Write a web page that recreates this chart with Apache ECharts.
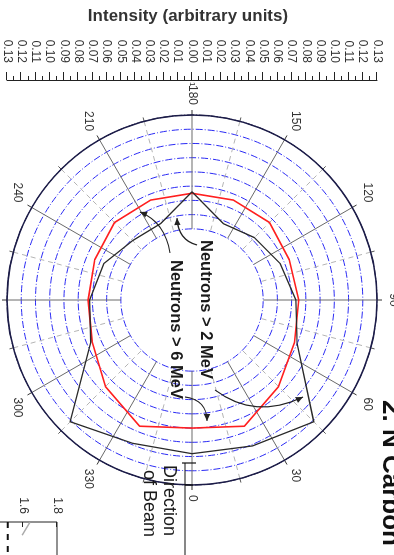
<!DOCTYPE html>
<html><head><meta charset="utf-8">
<script src="https://cdn.jsdelivr.net/npm/echarts@6/dist/echarts.min.js"></script>
<style>
html,body{margin:0;padding:0;width:394px;height:555px;overflow:hidden;background:#fff;}
#chart{position:absolute;left:0;top:0;width:600px;height:480px;transform-origin:0 0;transform:translate(394px,0) rotate(90deg);}
</style></head><body><div id="chart"></div>
<script>
// Emission angle (degrees) and intensity (arbitrary units)
const angles = [0, 22.5, 45, 67.5, 90, 112.5, 135, 157.5, 180, 202.5, 225, 247.5, 270, 292.5, 315, 337.5];
const neutronsAbove2MeV = [0.108, 0.111, 0.121, 0.080, 0.073, 0.067, 0.062, 0.058, 0.076, 0.058, 0.059, 0.067, 0.072, 0.077, 0.121, 0.109];
const neutronsAbove6MeV = [0.090, 0.096, 0.086, 0.078, 0.075, 0.074, 0.077, 0.076, 0.075, 0.076, 0.077, 0.074, 0.073, 0.076, 0.086, 0.096];
const intensityMax = 0.13;
const ringMin = 0.05;
const intensityStep = 0.01;
const angleStep = 30;
const axisTitle = 'Intensity (arbitrary units)';
const label2 = 'Neutrons > 2 MeV';
const label6 = 'Neutrons > 6 MeV';
const beamLines = ['Direction', 'of Beam'];
const pageHeading = '2. N Carbon';
// neighbouring inset chart fragment
const insetTicks = {min: 1.2, max: 1.8, step: 0.2};
const insetGrey = [[0.05, 1.64], [1.7, 1.595]];
const insetDashed = [[0, 1.51], [10, 1.51]];

function closed(vals) {
  const d = angles.map((a, i) => [vals[i], a]);
  d.push([vals[0], angles[0]]);
  return d;
}

const C = [300, 202], R = 185;
const font = '"Liberation Sans", Arial, sans-serif';
const chart = echarts.init(document.getElementById('chart'), null, {renderer: 'canvas'});

function arrowHead(tip, from, size) {
  const dx = tip[0] - from[0], dy = tip[1] - from[1];
  const L = Math.hypot(dx, dy), ux = dx / L, uy = dy / L;
  const bx = tip[0] - ux * size, by = tip[1] - uy * size;
  const w = size * 0.45;
  return {type: 'polygon', shape: {points: [tip, [bx - uy * w, by + ux * w], [bx + uy * w, by - ux * w]]}, style: {fill: '#222'}, z: 20};
}
function curve(p1, cp, p2, head) {
  const els = [{type: 'bezierCurve', shape: {x1: p1[0], y1: p1[1], cpx1: cp[0], cpy1: cp[1], x2: p2[0], y2: p2[1]}, style: {stroke: '#222', lineWidth: 1.2, fill: null}, z: 20}];
  if (head) els.push(arrowHead(p2, cp, 7));
  return els;
}

const ringColors = [];
for (let v = ringMin; v < intensityMax - 1e-9; v += intensityStep) ringColors.push('#2b2bf5');
ringColors.push('#1c1c48');

chart.setOption({
  animation: false,
  backgroundColor: '#fff',
  polar: [
    {center: C, radius: R},
    {center: C, radius: [R * ringMin / intensityMax, R]}
  ],
  angleAxis: [
    {polarIndex: 0, type: 'value', min: 0, max: 360, interval: angleStep, startAngle: 0, clockwise: false, z: 3,
     axisLine: {show: true, lineStyle: {color: '#1c1c48', width: 1.5}},
     axisTick: {show: true, length: 5, lineStyle: {color: '#333'}},
     minorTick: {show: true, splitNumber: 2, length: 4, lineStyle: {color: '#555'}},
     splitLine: {show: false}, minorSplitLine: {show: false},
     axisLabel: {fontSize: 12, color: '#333', fontFamily: font, margin: 10}},
    {polarIndex: 1, type: 'value', min: 0, max: 360, interval: angleStep, startAngle: 0, clockwise: false, z: 1,
     axisLine: {show: false}, axisTick: {show: false}, axisLabel: {show: false},
     minorTick: {show: false, splitNumber: 2},
     splitLine: {show: true, lineStyle: {color: '#6a6a6a', width: 1}},
     minorSplitLine: {show: true, lineStyle: {color: '#b5b5b5', type: [5, 4], width: 1}}}
  ],
  radiusAxis: [
    {polarIndex: 0, type: 'value', min: 0, max: intensityMax, show: false},
    {polarIndex: 1, type: 'value', min: ringMin, max: intensityMax, interval: intensityStep, z: 1,
     axisLine: {show: false}, axisTick: {show: false}, axisLabel: {show: false},
     splitLine: {show: true, lineStyle: {color: ringColors, width: 1, type: [7, 2, 1, 2]}}}
  ],
  grid: [
    {left: 80, top: 17, width: 10, height: 370},
    {left: 522, top: 337, width: 200, height: 102, show: true, borderColor: '#222', borderWidth: 1, backgroundColor: 'transparent'}
  ],
  xAxis: [
    {gridIndex: 0, type: 'value', show: false},
    {gridIndex: 1, type: 'value', min: 0, max: 10, show: false}
  ],
  yAxis: [
    {gridIndex: 0, type: 'value', min: -intensityMax, max: intensityMax, interval: intensityStep,
     name: axisTitle, nameLocation: 'middle', nameRotate: 90, nameGap: 55,
     nameTextStyle: {fontSize: 17, fontWeight: 'bold', color: '#333', fontFamily: font, padding: [0, 8, 0, 0]},
     axisLine: {show: true, lineStyle: {color: '#222', width: 1}},
     axisTick: {show: true, length: 8, lineStyle: {color: '#222'}},
     minorTick: {show: true, splitNumber: 2, length: 4, lineStyle: {color: '#222'}},
     splitLine: {show: false},
     axisLabel: {fontSize: 12, color: '#333', fontFamily: font, margin: 17,
       formatter: v => Math.abs(v).toFixed(2)}},
    {gridIndex: 1, type: 'value', min: insetTicks.min, max: insetTicks.max, interval: insetTicks.step,
     axisLine: {show: false}, splitLine: {show: false},
     axisTick: {show: true, inside: true, length: 5, lineStyle: {color: '#222'}},
     axisLabel: {fontSize: 12, color: '#333', fontFamily: font, margin: 8, formatter: v => v.toFixed(1)}}
  ],
  series: [
    {type: 'line', coordinateSystem: 'polar', polarIndex: 0, data: closed(neutronsAbove6MeV), symbol: 'none',
     lineStyle: {color: '#ff1f1f', width: 1.6}, z: 6},
    {type: 'line', coordinateSystem: 'polar', polarIndex: 0, data: closed(neutronsAbove2MeV), symbol: 'none',
     lineStyle: {color: '#2a2a2a', width: 1.3}, z: 7},
    {type: 'line', xAxisIndex: 1, yAxisIndex: 1, data: insetGrey, symbol: 'none', lineStyle: {color: '#aaa', width: 1.5}},
    {type: 'line', xAxisIndex: 1, yAxisIndex: 1, data: insetDashed, symbol: 'none', lineStyle: {color: '#111', width: 2, type: [6, 6]}}
  ],
  graphic: [
    {type: 'text', x: 240, y: 188, z: 20, style: {text: label2, font: 'bold 16.5px ' + font, fill: '#1a1a1a', textVerticalAlign: 'middle', verticalAlign: 'middle'}},
    {type: 'text', x: 260, y: 218, z: 20, style: {text: label6, font: 'bold 16.5px ' + font, fill: '#1a1a1a', textVerticalAlign: 'middle', verticalAlign: 'middle'}},
    {type: 'text', x: 465, y: 225, z: 20, style: {text: beamLines[0], font: '18px ' + font, fill: '#1a1a1a', textVerticalAlign: 'middle', verticalAlign: 'middle'}},
    {type: 'text', x: 470, y: 245, z: 20, style: {text: beamLines[1], font: '18px ' + font, fill: '#1a1a1a', textVerticalAlign: 'middle', verticalAlign: 'middle'}},
    {type: 'text', x: 400, y: 17, z: 20, style: {text: pageHeading, font: 'bold 26px ' + font, fill: '#111', textVerticalAlign: 'bottom', verticalAlign: 'bottom'}},
    {type: 'text', x: 82, y: 202, z: 20, style: {text: '1', font: '8px ' + font, fill: '#222', textVerticalAlign: 'middle', verticalAlign: 'middle'}},
    {type: 'polyline', shape: {points: [[463, 209], [600, 209]]}, style: {stroke: '#111', lineWidth: 1.2}, z: 20},
    {type: 'polyline', shape: {points: [[463, 198], [463, 212]]}, style: {stroke: '#111', lineWidth: 1.2}, z: 20},
    {type: 'polyline', shape: {points: [[485, 201], [485, 209]]}, style: {stroke: '#111', lineWidth: 1.2}, z: 20},
    ...curve([245, 197], [240, 216], [218, 217], true),
    ...curve([253, 224], [222, 229], [212, 254], true),
    ...curve([390, 179], [420, 139], [397, 91], true),
    ...curve([397, 209], [400, 187], [421, 187], true)
  ]
});
</script></body></html>
